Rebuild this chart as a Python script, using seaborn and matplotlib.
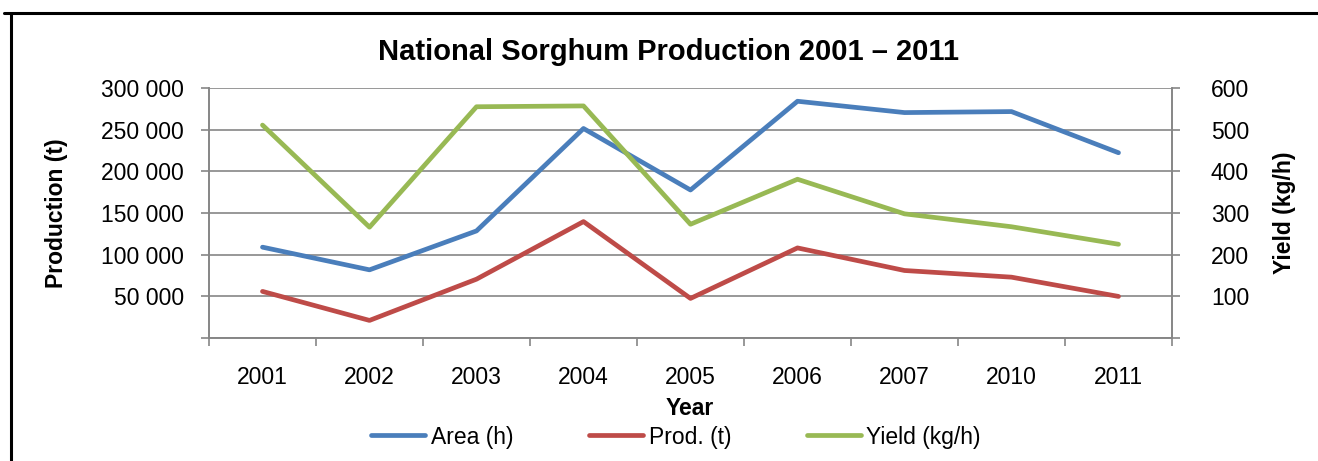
import pandas as pd
import matplotlib.pyplot as plt
import seaborn as sns
from matplotlib.lines import Line2D
from matplotlib.ticker import FuncFormatter, MultipleLocator, FixedLocator

years = ['2001', '2002', '2003', '2004', '2005', '2006', '2007', '2010', '2011']
area = [109000, 81800, 128500, 251400, 177600, 284100, 270500, 271700, 222300]
prod = [55900, 21100, 70600, 139700, 47500, 108100, 81000, 73000, 49900]
yield_kgh = [511, 266, 555, 557, 273, 381, 298, 267, 225]

df = pd.DataFrame({'year': years, 'area': area, 'prod': prod, 'yield': yield_kgh})

blue = '#4A7EBB'
red = '#BE4B48'
green = '#98B954'
grey = '#868686'

sns.set_style('white')
plt.rcParams['font.family'] = ['Liberation Sans', 'DejaVu Sans']
plt.rcParams['text.color'] = 'black'
plt.rcParams['xtick.labelcolor'] = 'black'
plt.rcParams['ytick.labelcolor'] = 'black'

fig = plt.figure(figsize=(13.18, 4.61), dpi=100)
ax = fig.add_axes([209 / 1318, 1 - 338 / 461, 963 / 1318, 250 / 461])
ax2 = ax.twinx()

line_kw = dict(linewidth=3.4, solid_capstyle='round', solid_joinstyle='round')
sns.lineplot(data=df, x='year', y='area', ax=ax, color=blue, label='Area (h)', **line_kw)
sns.lineplot(data=df, x='year', y='prod', ax=ax, color=red, label='Prod. (t)', **line_kw)
sns.lineplot(data=df, x='year', y='yield', ax=ax2, color=green, label='Yield (kg/h)', **line_kw)

for a in (ax, ax2):
    if a.get_legend() is not None:
        a.get_legend().remove()
    a.set_xlabel('')
    a.set_ylabel('')
    for s in a.spines.values():
        s.set_color(grey)
        s.set_linewidth(1.2)
    a.spines['top'].set_visible(False)

ax.set_xlim(-0.5, len(years) - 0.5)
ax.set_ylim(0, 300000)
ax2.set_ylim(0, 600)

ax.yaxis.set_major_locator(MultipleLocator(50000))
ax2.yaxis.set_major_locator(MultipleLocator(100))
ax.yaxis.set_major_formatter(FuncFormatter(lambda v, p: '' if v == 0 else f'{int(v):,}'.replace(',', ' ')))
ax2.yaxis.set_major_formatter(FuncFormatter(lambda v, p: '' if v == 0 else f'{int(v)}'))

ax.grid(axis='y', color=grey, linewidth=1.2)
ax.grid(axis='x', visible=False)
ax.set_axisbelow(True)

# category labels at centres, tick marks at boundaries
ax.xaxis.set_minor_locator(FixedLocator([i - 0.5 for i in range(len(years) + 1)]))
ax.tick_params(axis='x', which='major', length=0, pad=20, labelsize=16.5)
ax.tick_params(axis='x', which='minor', length=6, width=1.2, color=grey, direction='out', bottom=True)
ax.tick_params(axis='y', length=6, width=1.2, color=grey, direction='out', left=True, pad=12, labelsize=16.5)
ax2.tick_params(axis='y', length=6, width=1.2, color=grey, direction='out', right=True, pad=22, labelsize=16.5)

fig.text(669 / 1318, 1 - 52 / 461, 'National Sorghum Production 2001 – 2011',
         ha='center', va='center', fontsize=21, fontweight='bold')
fig.text(57 / 1318, 1 - 213 / 461, 'Production (t)', rotation=90,
         ha='center', va='center', fontsize=16.5, fontweight='bold')
fig.text(1285 / 1318, 1 - 213 / 461, 'Yield (kg/h)', rotation=90,
         ha='center', va='center', fontsize=16.5, fontweight='bold')
fig.text(690 / 1318, 1 - 408 / 461, 'Year', ha='center', va='center',
         fontsize=16.5, fontweight='bold')

h1, l1 = ax.get_legend_handles_labels()
h2, l2 = ax2.get_legend_handles_labels()
fig.legend(h1 + h2, l1 + l2, loc='center', bbox_to_anchor=(676 / 1318, 1 - 437 / 461),
           ncol=3, frameon=False, fontsize=16.5, handlelength=2.35,
           handletextpad=0.25, columnspacing=3.3)

# outer frame edges of the original page
fig.add_artist(Line2D([4 / 1318, 1], [1 - 13 / 461, 1 - 13 / 461], color='black', linewidth=2.2))
fig.add_artist(Line2D([10.5 / 1318, 10.5 / 1318], [0, 1 - 13 / 461], color='black', linewidth=2.2))

fig.savefig('out.png', dpi=100)
